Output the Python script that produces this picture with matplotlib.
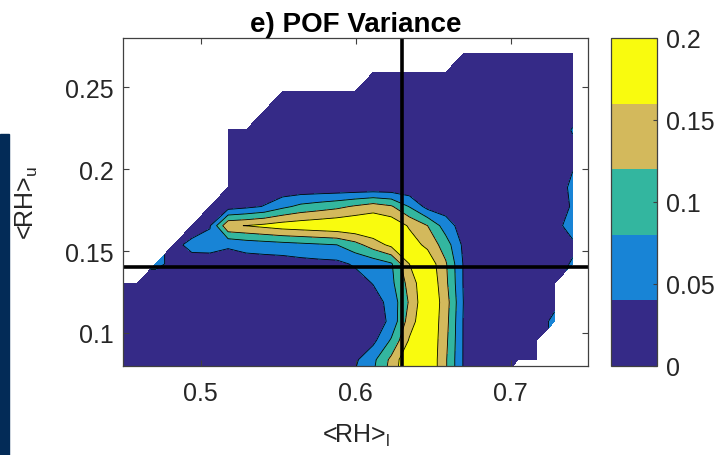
import numpy as np
import matplotlib.pyplot as plt
from matplotlib.colors import ListedColormap
from matplotlib.patches import Rectangle

plt.rcParams['font.family'] = ['Liberation Sans', 'DejaVu Sans']
plt.rcParams['mathtext.fontset'] = 'custom'
plt.rcParams['mathtext.rm'] = 'Liberation Sans'

n = np.nan
# grid of bin centres
rh_l = np.linspace(0.4476, 0.7401, 26)
rh_u = np.linspace(0.0720, 0.2706, 18)
levels = [0, 0.04, 0.08, 0.12, 0.16, 0.2]
cbar_ticks = [0, 0.05, 0.1, 0.15, 0.2]
band_colors = ['#352a87', '#1884d6', '#33b69f', '#d3b95c', '#f9fb0e']
line_rh_l = 0.63
line_rh_u = 0.14

# POF variance x100, one row per <RH>_u bin (bottom to top), nan = no data
var_pct = [
    [1.5, 1.5, 1.5, 1.5, 1.5, 1.5, 1.5, 1.5, 1.5, 1.5, 1.5, 1.5, 2.5, 4.5, 8, 14, 20, 20, 12.5, 3.5, 2, 2, n, n, n, n],
    [1.5, 1.5, 1.5, 1.5, 1.5, 1.5, 1.5, 1.5, 1.5, 1.5, 1.5, 1.5, 1.5, 3.3, 7, 13, 20, 20, 12.5, 3.5, 2, 2, 2, 2, n, n],
    [1.5, 1.5, 1.5, 1.5, 1.5, 1.5, 1.5, 1.5, 1.5, 1.5, 1.5, 1.5, 1.5, 1.5, 3, 8.5, 16.5, 20, 13, 3.5, 2, 2, 2, 2, n, n],
    [1.5, 1.5, 1.5, 1.5, 1.5, 1.5, 1.5, 1.5, 1.5, 1.5, 1.5, 1.5, 1.5, 1.5, 1.5, 5, 14, 20, 13.5, 3.5, 2, 2, 2, 2, 5, n],
    [1.5, 1.5, 1.5, 1.5, 1.5, 1.5, 1.5, 1.5, 1.5, 1.5, 1.5, 1.5, 1.5, 1.5, 2, 5.5, 12.5, 20, 14, 3.7, 2, 2, 2, 2, 3, n],
    [1.5, 1.5, 1.5, 1.5, 1.5, 1.5, 1.5, 1.5, 1.5, 1.5, 1.5, 1.5, 1.5, 2, 4.2, 7, 13.5, 20, 13, 3.5, 2, 2, 2, 2, 3, n],
    [n, n, 5, 3, 2.5, 2, 2, 2, 2, 2, 2.5, 2.8, 3, 4.5, 5.5, 7.5, 16, 19, 12.5, 3.5, 2, 2, 2, 2, 2, 4.5],
    [n, n, n, 3, 5, 5.5, 4.5, 5.5, 6, 6.5, 7, 7.5, 8, 10.5, 14, 17, 18, 15, 10, 3, 2, 2, 2, 2, 2, 3],
    [n, n, n, n, 2, 3.7, 15.5, 16.1, 17, 18, 18.5, 19, 19.5, 20, 20, 19, 15.5, 12, 6, 2, 2, 2, 2, 2, 2, 6.5],
    [n, n, n, n, n, 1, 2, 3, 4.2, 7, 9, 10, 11, 12.5, 14, 12.5, 7.8, 2.6, 2, 1.5, 1.5, 1.5, 1.5, 1.5, 1.5, 4.5],
    [n, n, n, n, n, n, 1.5, 1.5, 1.5, 1, 1, 1, 1, 1, 1, 1, 1, 1.5, 1.5, 1.5, 1.5, 1.5, 1.5, 1.5, 1.5, 5],
    [n, n, n, n, n, n, 1.5, 1.5, 1.5, 1.5, 1.5, 1.5, 1.5, 1.5, 1.5, 1.5, 1.5, 1.5, 1.5, 1.5, 1.5, 1.5, 1.5, 1.5, 1.5, 3.8],
    [n, n, n, n, n, n, 1.5, 1.5, 1.5, 1.5, 1.5, 1.5, 1.5, 1.5, 1.5, 1.5, 1.5, 1.5, 1.5, 1.5, 1.5, 1.5, 1.5, 1.5, 1.5, 3],
    [n, n, n, n, n, n, 1.5, 1.5, 1.5, 1.5, 1.5, 1.5, 1.5, 1.5, 1.5, 1.5, 1.5, 1.5, 1.5, 1.5, 1.5, 1.5, 1.5, 1.5, 1.5, 4.3],
    [n, n, n, n, n, n, n, n, 1.5, 1.5, 1.5, 1.5, 1.5, 1.5, 1.5, 1.5, 1.5, 1.5, 1.5, 1.5, 1.5, 1.5, 1.5, 1.5, 1.5, 2],
    [n, n, n, n, n, n, n, n, n, 1.5, 1.5, 1.5, 1.5, 1.5, 1.5, 1.5, 1.5, 1.5, 1.5, 1.5, 1.5, 1.5, 1.5, 1.5, 1.5, 2],
    [n, n, n, n, n, n, n, n, n, n, n, n, n, n, 1.5, 1.5, 1.5, 1.5, 1.5, 1.5, 1.5, 1.5, 1.5, 1.5, 1.5, 2],
    [n, n, n, n, n, n, n, n, n, n, n, n, n, n, n, n, n, n, n, 1.5, 1.5, 1.5, 1.5, 1.5, 1.5, 1.5],
]

W, H = 716, 456
fig = plt.figure(figsize=(W / 100, H / 100), dpi=100)
fig.patches.append(Rectangle((0, 0), 9 / W, (H - 135) / H, transform=fig.transFigure,
                             color='#032b57', zorder=0))

ax = fig.add_axes([123 / W, (H - 366.7) / H, 465 / W, 327.7 / H])
z = np.array(var_pct) / 100
cmap = ListedColormap(band_colors)
cs = ax.contourf(rh_l, rh_u, z, levels=levels, cmap=cmap)
ax.contour(rh_l, rh_u, z, levels=levels[1:-1], colors='k', linewidths=0.6)
ax.axhline(line_rh_u, color='k', lw=2.6)
ax.axvline(line_rh_l, color='k', lw=2.6)

ax.set_xlim(0.45, 0.75)
ax.set_ylim(0.08, 0.28)
ax.set_xticks([0.5, 0.6, 0.7])
ax.set_xticklabels(['0.5', '0.6', '0.7'])
ax.set_yticks([0.1, 0.15, 0.2, 0.25])
ax.set_yticklabels(['0.1', '0.15', '0.2', '0.25'])
ax.tick_params(direction='in', top=True, right=True, length=4, width=0.8,
               color='#404040', labelcolor='#262626', labelsize=18, pad=7)
ax.tick_params(axis='x', pad=11)
for s in ax.spines.values():
    s.set_color('#404040')
    s.set_linewidth(0.9)

ax.set_title('e) POF Variance', fontweight='bold', fontsize=20, pad=5)
ax.set_xlabel(r'<RH>$_{\mathregular{l}}$', fontsize=18, color='#262626', labelpad=12)
ax.set_ylabel(r'<RH>$_{\mathregular{u}}$', fontsize=18, color='#262626', labelpad=18)

cax = fig.add_axes([610.7 / W, (H - 366.7) / H, 46 / W, 327.7 / H])
cb = fig.colorbar(cs, cax=cax, ticks=cbar_ticks)
cb.ax.set_yticklabels(['0', '0.05', '0.1', '0.15', '0.2'])
cb.ax.tick_params(direction='in', length=3, width=0.8, color='#404040',
                  labelcolor='#262626', labelsize=18, pad=7)
cb.outline.set_edgecolor('#404040')
cb.outline.set_linewidth(0.9)

fig.savefig('out.png', dpi=100)
